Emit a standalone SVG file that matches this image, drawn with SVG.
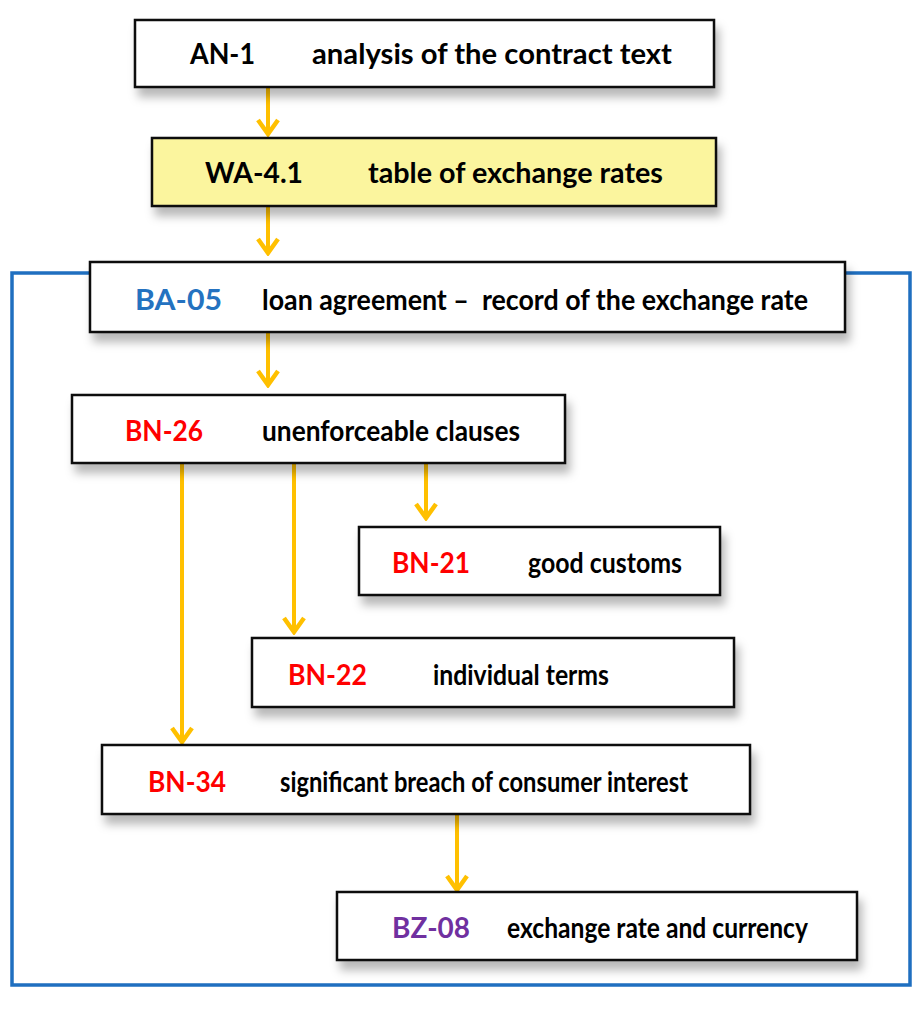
<svg xmlns="http://www.w3.org/2000/svg" width="922" height="1024" viewBox="0 0 922 1024">
<style>
.box{fill:#ffffff;stroke:#111111;stroke-width:2.5}
.yel{fill:#FBF59E}
.t{font-family:Lato,"Open Sans","Liberation Sans",sans-serif;font-weight:bold;font-size:28px;fill:#000000}
.red{fill:#FF0000}
.blue{fill:#2472C0}
.purple{fill:#7030A0}
.conn{fill:none;stroke:#FFC000;stroke-width:4;marker-end:url(#arr)}
</style>
<defs>
<filter id="sh" x="-10%" y="-30%" width="130%" height="180%">
<feDropShadow dx="4" dy="9" stdDeviation="5" flood-color="#000000" flood-opacity="0.28"/>
</filter>
<marker id="arr" viewBox="0 0 20 24" refX="17" refY="12" markerWidth="20" markerHeight="24" markerUnits="userSpaceOnUse" orient="auto">
<path d="M3 2 L17 12 L3 22" fill="none" stroke="#FFC000" stroke-width="4.5" stroke-linejoin="miter"/>
</marker>
</defs>
<rect width="922" height="1024" fill="#ffffff"/>
<g id="frame">
<path d="M90 273 H12 V985 H910 V273 H845" fill="none" stroke="#1F6FC0" stroke-width="3.5"/>
</g>
<g id="connectors">
<path class="conn" d="M268 88 V134"/>
<path class="conn" d="M268 207 V253"/>
<path class="conn" d="M268 333 V385"/>
<path class="conn" d="M182 464 V742"/>
<path class="conn" d="M294 464 V632"/>
<path class="conn" d="M426 464 V518"/>
<path class="conn" d="M457 815 V890"/>
</g>
<g id="AN-1">
<rect class="box" x="135" y="20" width="579" height="67" filter="url(#sh)"/>
<text class="t" x="190" y="64" textLength="65" lengthAdjust="spacingAndGlyphs">AN-1</text>
<text class="t" x="312" y="64" textLength="360" lengthAdjust="spacingAndGlyphs">analysis of the contract text</text>
</g>
<g id="WA-4.1">
<rect class="box yel" x="152" y="138" width="564" height="68" filter="url(#sh)"/>
<text class="t" x="205" y="183" textLength="98" lengthAdjust="spacingAndGlyphs">WA-4.1</text>
<text class="t" x="368" y="183" textLength="295" lengthAdjust="spacingAndGlyphs">table of exchange rates</text>
</g>
<g id="BA-05">
<rect class="box" x="90" y="262" width="755" height="70" filter="url(#sh)"/>
<text class="t blue" x="135" y="310" textLength="87" lengthAdjust="spacingAndGlyphs">BA-05</text>
<text class="t" x="262" y="310" textLength="546" lengthAdjust="spacingAndGlyphs" xml:space="preserve">loan agreement –  record of the exchange rate</text>
</g>
<g id="BN-26">
<rect class="box" x="72" y="395" width="493" height="68" filter="url(#sh)"/>
<text class="t red" x="125" y="441" textLength="78" lengthAdjust="spacingAndGlyphs">BN-26</text>
<text class="t" x="262" y="441" textLength="258" lengthAdjust="spacingAndGlyphs">unenforceable clauses</text>
</g>
<g id="BN-21">
<rect class="box" x="359" y="527" width="361" height="68" filter="url(#sh)"/>
<text class="t red" x="392" y="573" textLength="78" lengthAdjust="spacingAndGlyphs">BN-21</text>
<text class="t" x="528" y="573" textLength="154" lengthAdjust="spacingAndGlyphs">good customs</text>
</g>
<g id="BN-22">
<rect class="box" x="252" y="638" width="482" height="69" filter="url(#sh)"/>
<text class="t red" x="288" y="685" textLength="79" lengthAdjust="spacingAndGlyphs">BN-22</text>
<text class="t" x="433" y="685" textLength="176" lengthAdjust="spacingAndGlyphs">individual terms</text>
</g>
<g id="BN-34">
<rect class="box" x="102" y="745" width="648" height="69" filter="url(#sh)"/>
<text class="t red" x="148" y="792" textLength="78" lengthAdjust="spacingAndGlyphs">BN-34</text>
<text class="t" x="280" y="792" textLength="408" lengthAdjust="spacingAndGlyphs">significant breach of consumer interest</text>
</g>
<g id="BZ-08">
<rect class="box" x="337" y="892" width="520" height="68" filter="url(#sh)"/>
<text class="t purple" x="392" y="938" textLength="78" lengthAdjust="spacingAndGlyphs">BZ-08</text>
<text class="t" x="507" y="938" textLength="301" lengthAdjust="spacingAndGlyphs">exchange rate and currency</text>
</g>
</svg>
